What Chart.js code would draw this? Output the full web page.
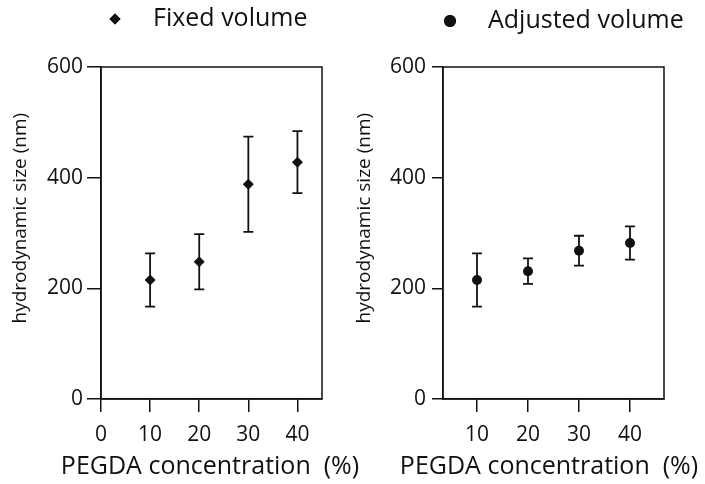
<!DOCTYPE html>
<html>
<head>
<meta charset="utf-8">
<script src="https://cdn.jsdelivr.net/npm/chart.js@4"></script>
<style>
body { margin: 0; background: #fff; }
#wrap { position: relative; width: 705px; height: 484px; overflow: hidden; }
canvas { position: absolute; top: 0; }
</style>
</head>
<body>
<div id="wrap">
  <canvas id="leftChart" width="366" height="484" style="left:0"></canvas>
  <canvas id="rightChart" width="353" height="484" style="left:352px"></canvas>
</div>
<script>
// PEGDA concentration (%) and hydrodynamic size (nm), mean and error
var concentration = [10, 20, 30, 40];
var fixedSize = [215, 248, 388, 428];
var fixedErr = [48, 50, 86, 56];
var adjustedSize = [215, 231, 268, 282];
var adjustedErr = [48, 23, 27, 30];

var yTicks = [0, 200, 400, 600];
var leftXTicks = [0, 10, 20, 30, 40];
var rightXTicks = [10, 20, 30, 40];

var INK = '#111';
var FONT = "'Open Sans', sans-serif";
Chart.defaults.font.family = FONT;
Chart.defaults.color = INK;

function points(sizes) {
	return concentration.map(function(c, i) {
		return { x: c, y: sizes[i] };
	});
}

// vertical error bars with caps, drawn under the markers
var errorBars = {
	id: 'errorBars',
	beforeDatasetsDraw: function(chart) {
		var ctx = chart.ctx, xs = chart.scales.x, ys = chart.scales.y;
		ctx.save();
		ctx.strokeStyle = INK;
		ctx.lineWidth = 1.8;
		chart.data.datasets.forEach(function(ds) {
			ds.data.forEach(function(p, i) {
				var px = xs.getPixelForValue(p.x);
				var top = ys.getPixelForValue(p.y + ds.errors[i]);
				var bot = ys.getPixelForValue(p.y - ds.errors[i]);
				ctx.beginPath();
				ctx.moveTo(px, top); ctx.lineTo(px, bot);
				ctx.moveTo(px - 5, top); ctx.lineTo(px + 5, top);
				ctx.moveTo(px - 5, bot); ctx.lineTo(px + 5, bot);
				ctx.stroke();
			});
		});
		ctx.restore();
	}
};

// closed frame around the plot area
var frame = {
	id: 'frame',
	afterDraw: function(chart) {
		var a = chart.chartArea, ctx = chart.ctx;
		ctx.save();
		ctx.strokeStyle = INK;
		ctx.lineWidth = 1.5;
		ctx.strokeRect(a.left, a.top, a.right - a.left, a.bottom - a.top);
		ctx.restore();
	}
};

// single-entry key above each panel, plus the x title, which is
// wider than the plot and must not be squeezed to the scale width
var panelText = {
	id: 'panelText',
	afterDraw: function(chart, args, opts) {
		var ctx = chart.ctx;
		ctx.save();
		Chart.helpers.drawPoint(ctx, {
			pointStyle: opts.pointStyle, radius: opts.radius, borderWidth: 0
		}, opts.markX, opts.keyY);
		ctx.fillStyle = INK;
		ctx.fill();
		ctx.textBaseline = 'middle';
		ctx.font = '25px ' + FONT;
		ctx.fillText(opts.key, opts.textX, opts.keyY);
		ctx.textAlign = 'center';
		ctx.fillText('PEGDA concentration  (%)', opts.titleX, 467);
		ctx.restore();
	}
};

function makeChart(id, cfg) {
	var ctx = document.getElementById(id).getContext('2d');
	return new Chart(ctx, {
		type: 'scatter',
		data: {
			datasets: [{
				data: points(cfg.sizes),
				errors: cfg.errors,
				pointStyle: cfg.pointStyle,
				pointRadius: cfg.pointRadius,
				pointHoverRadius: cfg.pointRadius,
				backgroundColor: INK,
				borderColor: INK,
				borderWidth: 0
			}]
		},
		options: {
			responsive: false,
			animation: false,
			events: [],
			layout: { padding: { top: 67, right: cfg.padRight, bottom: 0, left: 0 } },
			plugins: {
				legend: { display: false },
				tooltip: { enabled: false },
				panelText: cfg.text
			},
			scales: {
				x: {
					type: 'linear',
					min: cfg.xMin,
					max: cfg.xMax,
					afterBuildTicks: function(s) {
						s.ticks = cfg.xTicks.map(function(v) { return { value: v }; });
					},
					afterFit: function(s) { s.height = 85; },
					grid: { drawOnChartArea: false, tickLength: 13, color: INK, lineWidth: 1.5 },
					border: { color: INK, width: 1.5 },
					ticks: { font: { size: 21 }, padding: 10, maxRotation: 0 }
				},
				y: {
					min: 0,
					max: 600,
					afterBuildTicks: function(s) {
						s.ticks = yTicks.map(function(v) { return { value: v }; });
					},
					afterFit: function(s) { s.width = cfg.yWidth; },
					grid: { drawOnChartArea: false, tickLength: cfg.yTickLen, color: INK, lineWidth: 1.5 },
					border: { color: INK, width: 1.5 },
					ticks: { font: { size: 21 }, padding: cfg.yPad },
					title: {
						display: true,
						text: '      hydrodynamic size (nm)',
						font: { size: 19 },
						padding: { top: cfg.titlePad, bottom: 0 }
					}
				}
			}
		},
		plugins: [errorBars, frame, panelText]
	});
}

makeChart('leftChart', {
	sizes: fixedSize, errors: fixedErr,
	pointStyle: 'rectRot', pointRadius: 5.5,
	xMin: 0, xMax: 45, xTicks: leftXTicks,
	padRight: 44, yWidth: 101, yTickLen: 14, yPad: 4, titlePad: 9,
	text: { key: 'Fixed volume', pointStyle: 'rectRot', radius: 5.5, markX: 115, textX: 153, keyY: 19, titleX: 210 }
});

makeChart('rightChart', {
	sizes: adjustedSize, errors: adjustedErr,
	pointStyle: 'circle', pointRadius: 5,
	xMin: 10 - 20 / 3, xMax: 40 + 20 / 3, xTicks: rightXTicks,
	padRight: 41, yWidth: 91, yTickLen: 11, yPad: 6, titlePad: 1,
	text: { key: 'Adjusted volume', pointStyle: 'circle', radius: 6, markX: 98, textX: 136, keyY: 21, titleX: 197 }
});
</script>
</body>
</html>
